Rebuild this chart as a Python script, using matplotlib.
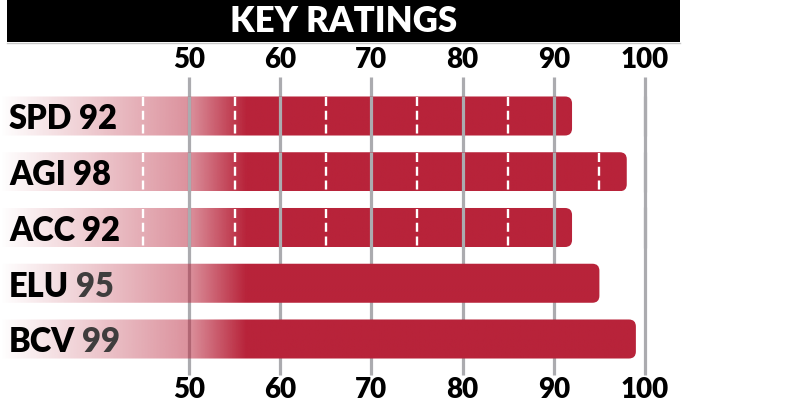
import numpy as np
import matplotlib
matplotlib.use("Agg")
import matplotlib.pyplot as plt
from matplotlib.patches import FancyBboxPatch, Rectangle
from matplotlib.colors import to_rgb

# ---- data ----
categories = ["SPD", "AGI", "ACC", "ELU", "BCV"]
values = [92, 98, 92, 95, 99]
dashed_rows = [True, True, True, False, False]
tick_values = [50, 60, 70, 80, 90, 100]
dash_values = [45, 55, 65, 75, 85, 95]
title = "KEY RATINGS"

plt.rcParams["lines.scale_dashes"] = False
FONT = ["Lato", "DejaVu Sans"]

W, H = 785, 415
fig = plt.figure(figsize=(W / 100, H / 100), dpi=100)
ax = fig.add_axes([0, 0, 1, 1])
ax.set_axis_off()

ppu = 9.12                 # pixels per rating unit
x_left = 50 - 189 / ppu    # data x at pixel 0
row_px = 55.75
row0_px = 116
xlim = (x_left, x_left + W / ppu)
ylim = ((H - row0_px) / row_px, -row0_px / row_px)

red = np.array(to_rgb("#B8233A"))
grid_col = "#ABABAF"
bar_h = 0.70

ys = np.arange(len(categories))
bars = ax.barh(ys, [v - x_left for v in values], left=x_left, height=bar_h,
               color="none", edgecolor="none")

# alpha ramp (data x -> alpha)
ax_stops = [x_left, 45, 50, 56.2]
al_stops = [0.0, 0.38, 0.5, 1.0]

grid_top = (77 - row0_px) / row_px
grid_bot = (375 - row0_px) / row_px

# gridlines behind everything
ax.vlines(tick_values, grid_top, grid_bot, color=grid_col, lw=2.3, zorder=1)

r_px = 7
for i, (b, v, dsh) in enumerate(zip(bars, values, dashed_rows)):
    x0, y0 = b.get_x(), b.get_y()
    w, h = b.get_width(), b.get_height()
    rx = r_px / ppu
    ry = r_px / row_px
    z = 2 if dsh else 4
    patch = FancyBboxPatch((x0 - 2, y0), w + 2, h,
                           boxstyle=f"round,pad=0,rounding_size={rx}",
                           mutation_aspect=ry / rx,
                           facecolor="none", edgecolor="none",
                           transform=ax.transData)
    ax.add_patch(patch)
    xs = np.linspace(x0, x0 + w, 800)
    alpha = np.interp(xs, ax_stops, al_stops)
    img = np.zeros((1, len(xs), 4))
    img[..., :3] = red
    img[..., 3] = alpha
    im = ax.imshow(img, extent=[x0, x0 + w, y0 + h, y0], aspect="auto",
                   interpolation="bilinear", zorder=z)
    im.set_clip_path(patch)
    if dsh:
        dv = [d for d in dash_values if d < v]
        ax.vlines(dv, y0 + 0.015, y0 + h, color="white", lw=1.7,
                  linestyles=[(0, (6.5, 3.4))], zorder=3.5)
        # gridlines drawn on top of these bars
        ax.vlines(tick_values, y0 - 0.01, y0 + h + 0.01, color=grid_col,
                  lw=2.3, zorder=3)

# row labels: name in black, number (black or dark grey) right after it
for i, (c, v) in enumerate(zip(categories, values)):
    num_col = "black" if dashed_rows[i] else "#3F3D3D"
    name = ax.text(x_left + 9 / ppu, i + 0.24, c, ha="left", va="baseline",
                   fontsize=23.5, fontweight="heavy", color="black",
                   family=FONT, zorder=7)
    ax.annotate(f"{v}", xy=(1, 0), xycoords=name, xytext=(7, 0),
                textcoords="offset pixels", ha="left", va="bottom",
                fontsize=23.5, fontweight="heavy", color=num_col,
                family=FONT, zorder=7)

# tick labels top and bottom
for t in tick_values:
    ax.text(t, (60 - row0_px) / row_px, str(t), ha="center", va="center",
            fontsize=20, fontweight="heavy", color="black", family=FONT)
    ax.text(t, (390 - row0_px) / row_px, str(t), ha="center", va="center",
            fontsize=20, fontweight="heavy", color="black", family=FONT)

# title bar
tb_x0 = x_left + 7 / ppu
tb_x1 = x_left + 680 / ppu
ax.add_patch(Rectangle((tb_x0, (42 - row0_px) / row_px), tb_x1 - tb_x0,
                       -42 / row_px, facecolor="black", edgecolor="none", zorder=5))
ax.plot([tb_x0, tb_x1], [(43 - row0_px) / row_px] * 2, color="#C8C8C8", lw=1, zorder=5)
ax.text((tb_x0 + tb_x1) / 2, (22 - row0_px) / row_px, title, ha="center", va="center",
        fontsize=25, fontweight="heavy", color="white", family=FONT, zorder=6)

ax.set_xlim(*xlim)
ax.set_ylim(*ylim)

fig.savefig("out.png", dpi=100, facecolor="white")
